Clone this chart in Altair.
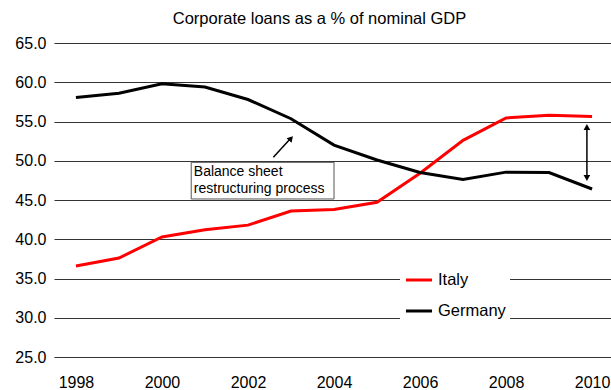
import altair as alt
import pandas as pd

years = list(range(1998, 2011))
italy = [36.6, 37.6, 40.3, 41.2, 41.8, 43.6, 43.8, 44.7, 48.4, 52.6, 55.45, 55.8, 55.65]
germany = [58.05, 58.6, 59.8, 59.4, 57.8, 55.35, 52.0, 50.1, 48.5, 47.6, 48.55, 48.5, 46.4]
series_order = ["Italy", "Germany"]
series_colors = ["#ff0000", "#000000"]
title_text = "Corporate loans as a % of nominal GDP"
y_ticks = [25, 30, 35, 40, 45, 50, 55, 60, 65]
x_ticks = [1998, 2000, 2002, 2004, 2006, 2008, 2010]

# annotation (data coordinates)
note_lines = ["Balance sheet", "restructuring process"]
note_pos = {"x": 2000.74, "y": 48.1}
note_box = {"x": 2000.68, "x2": 2004.0, "y": 49.8, "y2": 45.13}
arrow1 = {"x": 2002.59, "y": 50.44, "x2": 2003.0, "y2": 52.9}
arrow1_head = {"x": 2003.0, "y": 52.85}
gap_x = 2009.88
gap_top = 54.3
gap_bottom = 47.8

FONT = "Liberation Sans"

df = pd.DataFrame({
    "year": years * 2,
    "value": italy + germany,
    "country": ["Italy"] * len(years) + ["Germany"] * len(years),
})

xs = alt.Scale(domain=[1997.49, 2010.44], nice=False, zero=False)
ys = alt.Scale(domain=[25, 65], nice=False, zero=False)

x_axis = alt.Axis(values=x_ticks, format="d", grid=False, domain=False, ticks=False,
                  labelFontSize=16, labelFont=FONT, labelColor="black", labelPadding=17,
                  title=None, labelFlush=False, labelOverlap=False)
y_axis = alt.Axis(values=y_ticks, format=".1f", grid=True, gridColor="#333333", gridWidth=1,
                  domain=False, ticks=False, labelFontSize=16, labelFont=FONT,
                  labelColor="black", labelPadding=8, title=None, labelOverlap=False,
                  labelFlush=False)

X = lambda f: alt.X(f, scale=xs, axis=x_axis)
Y = lambda f: alt.Y(f, scale=ys, axis=y_axis)

lines = alt.Chart(df).mark_line(strokeWidth=3).encode(
    x=X("year:Q"),
    y=Y("value:Q"),
    color=alt.Color("country:N", scale=alt.Scale(domain=series_order, range=series_colors),
                    legend=alt.Legend(title=None, orient="none", legendX=346, legendY=218,
                                      fillColor="white", padding=4, symbolType="stroke",
                                      symbolSize=680, symbolStrokeWidth=3, labelFontSize=16.5,
                                      labelFont=FONT, labelColor="black", labelOffset=4,
                                      rowPadding=7)),
)

box_df = pd.DataFrame([note_box])
box = alt.Chart(box_df).mark_rect(fill="white", stroke="#555555", strokeWidth=1).encode(
    x=X("x:Q"), x2="x2:Q", y=Y("y:Q"), y2="y2:Q")

note_df = pd.DataFrame([{**note_pos, "t": note_lines}])
note = alt.Chart(note_df).mark_text(align="left", baseline="alphabetic", fontSize=14,
                                     font=FONT, color="black", lineHeight=17.6).encode(
    x=X("x:Q"), y=Y("y:Q"), text="t")

a1_df = pd.DataFrame([arrow1])
a1 = alt.Chart(a1_df).mark_rule(strokeWidth=1.5, color="black").encode(
    x=X("x:Q"), x2="x2:Q", y=Y("y:Q"), y2="y2:Q")
a1h = alt.Chart(pd.DataFrame([arrow1_head])).mark_point(
    shape="triangle-up", filled=True, color="black", size=45, angle=42, opacity=1).encode(
    x=X("x:Q"), y=Y("y:Q"))

gap_df = pd.DataFrame([{"x": gap_x, "y": gap_top, "y2": gap_bottom}])
gap = alt.Chart(gap_df).mark_rule(strokeWidth=1.5, color="black").encode(
    x=X("x:Q"), y=Y("y:Q"), y2="y2:Q")
heads_df = pd.DataFrame([{"x": gap_x, "y": gap_top, "s": "triangle-up"},
                         {"x": gap_x, "y": gap_bottom, "s": "triangle-down"}])
heads = alt.Chart(heads_df).mark_point(filled=True, color="black", size=45, opacity=1).encode(
    x=X("x:Q"), y=Y("y:Q"),
    shape=alt.Shape("s:N", scale=None, legend=None))

chart = alt.layer(lines, box, note, a1, a1h, gap, heads).properties(
    width=557, height=314,
    background="white",
    title=alt.TitleParams(title_text, fontSize=16.5, font=FONT, fontWeight="normal",
                          color="black", anchor="middle", offset=8, dx=-13),
    autosize=alt.AutoSizeParams(type="none"),
    padding={"left": 54, "top": 43, "right": 0, "bottom": 33},
).configure_view(stroke=None)

chart.save("out.html", embed_options={"renderer": "svg", "actions": False})
